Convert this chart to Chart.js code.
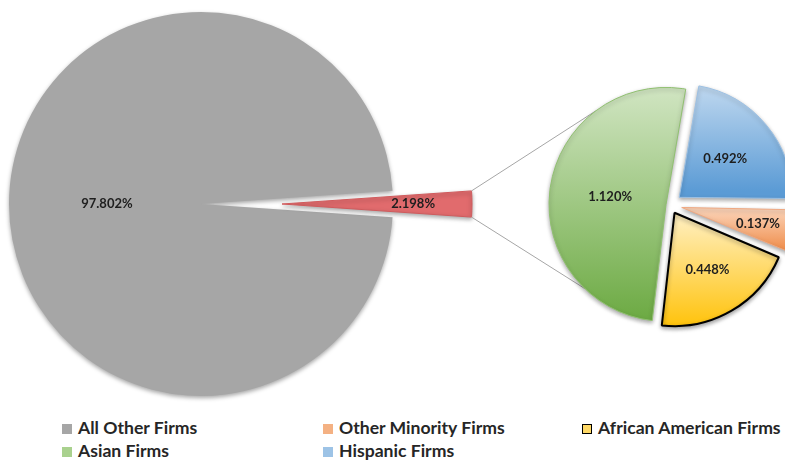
<!DOCTYPE html>
<html>
<head>
<meta charset="utf-8">
<script src="https://cdn.jsdelivr.net/npm/chart.js@4.4.1/dist/chart.umd.min.js"></script>
<style>
  html, body { margin: 0; padding: 0; background: #fff; }
  #wrap { position: relative; width: 785px; height: 460px; overflow: hidden; font-family: Lato, "Open Sans", sans-serif; }
  #wrap canvas { position: absolute; left: 0; top: 0; }
  .item { position: absolute; font-weight: bold; font-size: 17.6px; color: #262626; white-space: nowrap; line-height: 20px; }
  .item i { display: inline-block; width: 10px; height: 10px; margin-right: 6px; vertical-align: 0px; box-sizing: border-box; }
</style>
</head>
<body>
<div id="wrap">
  <canvas id="mainPie" width="785" height="410"></canvas>
  <canvas id="slicePie" width="785" height="410"></canvas>
  <canvas id="subPie" width="785" height="410"></canvas>
  <div id="legend"></div>
</div>
<script>
// values (percent of all firms)
const mainLabels = ['All Other Firms', 'Minority Firms'];
const mainValues = [97.802, 2.198];
const subLabels = ['Hispanic Firms', 'Other Minority Firms', 'African American Firms', 'Asian Firms'];
const subValues = [0.492, 0.137, 0.448, 1.120];
const legendOrder = ['All Other Firms', 'Asian Firms', 'Other Minority Firms', 'Hispanic Firms', 'African American Firms'];

const CLEAR = 'rgba(0,0,0,0)';
const GRAY = '#a6a6a6';
const RED = '#e16b6d';
const subLight = ['#c6dcf1', '#fbd2b6', '#ffedb8', '#cfe4c0'];
const subDark = ['#5b9bd5', '#ee8640', '#ffc000', '#6eab45'];
const legendColors = {
  'All Other Firms': GRAY, 'Asian Firms': '#a9d18e', 'Other Minority Firms': '#f4b183',
  'Hispanic Firms': '#9dc3e6', 'African American Firms': '#ffd966'
};

// red wedge sits centred on 3 o'clock
const mainTotal = mainValues.reduce((a, b) => a + b, 0);
const mainRotation = 90 + mainValues[1] / mainTotal * 180;

function slicePos(arc, ds, i) {
  const mid = (arc.startAngle + arc.endAngle) / 2;
  const off = ((ds.offset && ds.offset[i]) || 0) / 4;
  return { mid, cx: arc.x + Math.cos(mid) * off, cy: arc.y + Math.sin(mid) * off };
}

// vertical light-to-dark fill per slice
function gradientFill(c) {
  const arc = c.element;
  const i = c.dataIndex;
  if (!arc || arc.x === undefined || isNaN(arc.startAngle)) return subDark[i];
  const { cx, cy } = slicePos(arc, c.dataset, i);
  let top = cy, bottom = cy;
  for (let k = 0; k <= 30; k++) {
    const a = arc.startAngle + (arc.endAngle - arc.startAngle) * k / 30;
    const y = cy + Math.sin(a) * arc.outerRadius;
    top = Math.min(top, y);
    bottom = Math.max(bottom, y);
  }
  const g = c.chart.ctx.createLinearGradient(0, top, 0, bottom);
  g.addColorStop(0, subLight[i]);
  g.addColorStop(1, subDark[i]);
  return g;
}

const shadowPlugin = {
  id: 'softShadow',
  beforeDatasetsDraw(chart) {
    const ctx = chart.ctx;
    ctx.save();
    ctx.shadowColor = 'rgba(0,0,0,0.35)';
    ctx.shadowBlur = 4;
    ctx.shadowOffsetY = 2;
  },
  afterDatasetsDraw(chart) { chart.ctx.restore(); }
};

const labelPlugin = {
  id: 'sliceLabels',
  afterDraw(chart) {
    const ctx = chart.ctx;
    const ds = chart.data.datasets[0];
    const meta = chart.getDatasetMeta(0);
    ctx.save();
    ctx.font = 'bold 13px Lato, "Open Sans", sans-serif';
    ctx.fillStyle = '#1e1e1e';
    ctx.textAlign = 'center';
    ctx.textBaseline = 'middle';
    meta.data.forEach((arc, i) => {
      const frac = ds.labelFrac[i];
      if (frac == null) return;
      const { mid, cx, cy } = slicePos(arc, ds, i);
      const r = arc.outerRadius * frac;
      ctx.fillText(ds.data[i].toFixed(3) + '%', cx + Math.cos(mid) * r, cy + Math.sin(mid) * r);
    });
    ctx.restore();
  }
};

const baseOptions = (extra) => Object.assign({
  responsive: false,
  animation: false,
  events: [],
  plugins: { legend: { display: false }, tooltip: { enabled: false } }
}, extra);

// big pie, with the minority wedge left empty
new Chart(document.getElementById('mainPie'), {
  type: 'pie',
  data: { labels: mainLabels, datasets: [{
    data: mainValues, backgroundColor: [GRAY, CLEAR], borderWidth: 0,
    labelFrac: [0.49, null], clip: false
  }] },
  options: baseOptions({ rotation: mainRotation, radius: 192,
    layout: { padding: { left: 0, right: 383, top: 0, bottom: 2 } } }),
  plugins: [shadowPlugin, labelPlugin]
});

// the pulled-out minority wedge
const sliceChart = new Chart(document.getElementById('slicePie'), {
  type: 'pie',
  data: { labels: mainLabels, datasets: [{
    data: mainValues, backgroundColor: [CLEAR, RED], borderWidth: [0, 1], borderColor: '#d05a5c',
    labelFrac: [null, 0.69], clip: false
  }] },
  options: baseOptions({ rotation: mainRotation, radius: 190,
    layout: { padding: { left: 0, right: 221, top: 0, bottom: 2 } } }),
  plugins: [shadowPlugin, labelPlugin]
});

const connectorPlugin = {
  id: 'connectors',
  beforeDatasetsDraw(chart, args, opts) {
    const red = sliceChart.getDatasetMeta(0).data[1];
    const ds = chart.data.datasets[0];
    const green = chart.getDatasetMeta(0).data[3];
    if (!red || !green || green.x === undefined) return;
    const { cx, cy } = slicePos(green, ds, 3);
    const circ = green.endAngle - green.startAngle;
    const gr = green.outerRadius + (ds.offset[3] / 4) * (1 - Math.sin(Math.min(Math.PI, circ)));
    const ends = [red.startAngle, red.endAngle];
    const ctx = chart.ctx;
    ctx.save();
    ctx.strokeStyle = '#a6a6a6';
    ctx.lineWidth = 1;
    ends.forEach((a, k) => {
      const t = (opts.angles[k] - 90) * Math.PI / 180;
      ctx.beginPath();
      ctx.moveTo(red.x + Math.cos(a) * red.outerRadius, red.y + Math.sin(a) * red.outerRadius);
      ctx.lineTo(cx + Math.cos(t) * gr, cy + Math.sin(t) * gr);
      ctx.stroke();
    });
    ctx.restore();
  }
};

// breakdown pie on the right
const subChart = new Chart(document.getElementById('subPie'), {
  type: 'pie',
  data: { labels: subLabels, datasets: [{
    data: subValues,
    backgroundColor: gradientFill,
    borderColor: ['#9cc0e3', '#efa983', '#000000', '#90c070'],
    borderWidth: [1, 1, 2, 1],
    offset: [48, 48, 36, 16],
    labelFrac: [0.53, 0.69, 0.58, 0.5],
    clip: false
  }] },
  options: baseOptions({ rotation: 10, radius: 113,
    layout: { padding: { left: 555, right: 0, top: 0, bottom: 0 } },
    plugins: { legend: { display: false }, tooltip: { enabled: false },
      connectors: { angles: [323, 224] } } }),
  plugins: [connectorPlugin, shadowPlugin, labelPlugin]
});
subChart.update();

// legend, filled column by column like the original
const cols = [62, 323, 582];
const rows = [418, 441];
const legend = document.getElementById('legend');
legendOrder.forEach((name, i) => {
  const el = document.createElement('div');
  el.className = 'item';
  el.style.left = cols[Math.floor(i / 2)] + 'px';
  el.style.top = rows[i % 2] + 'px';
  const mark = document.createElement('i');
  mark.style.background = legendColors[name];
  if (name === 'African American Firms') mark.style.border = '1.5px solid #000';
  el.appendChild(mark);
  el.appendChild(document.createTextNode(name));
  legend.appendChild(el);
});
</script>
</body>
</html>
